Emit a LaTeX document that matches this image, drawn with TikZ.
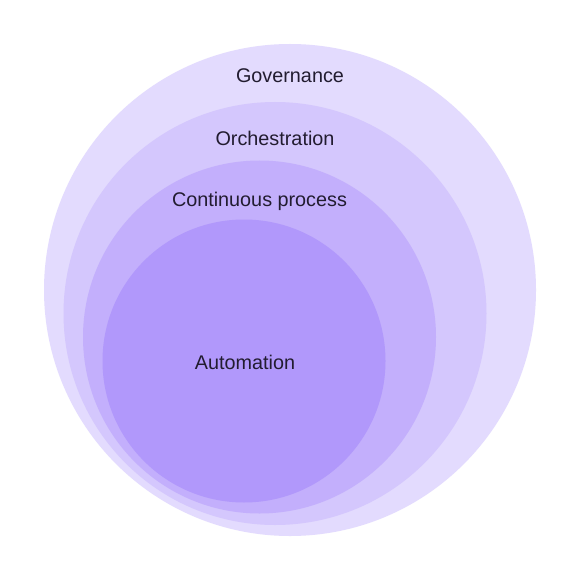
\documentclass[tikz,border=0pt]{standalone}
\usepackage{fontspec}
\setmainfont{Liberation Sans}
\definecolor{cA}{RGB}{227,219,254}
\definecolor{cB}{RGB}{212,199,253}
\definecolor{cC}{RGB}{195,175,252}
\definecolor{cD}{RGB}{177,152,251}
\definecolor{txt}{RGB}{34,28,48}
\tikzset{ring/.style={draw=none},lbl/.style={text=txt,font=\fontsize{19.8}{22}\selectfont,inner sep=0pt}}
\begin{document}
\begin{tikzpicture}[x=1pt,y=-1pt]
\useasboundingbox (0,0) rectangle (580,580);
\fill[white] (0,0) rectangle (580,580);
\node[ring,circle,fill=cA,minimum size=492pt] (gov) at (290,290) {};
\node[ring,circle,fill=cB,minimum size=423pt] (orc) at (275,313.5) {};
\node[ring,circle,fill=cC,minimum size=353pt] (con) at (259.5,337) {};
\node[ring,circle,fill=cD,minimum size=283pt] (aut) at (244,361) {};
\node[lbl] (tgov) at (290,76) {Governance};
\node[lbl] (torc) at (275,138) {Orchestration};
\node[lbl] (tcon) at (259.5,201) {Continuous process};
\node[lbl] (taut) at (245,362) {Automation};
\end{tikzpicture}
\end{document}
